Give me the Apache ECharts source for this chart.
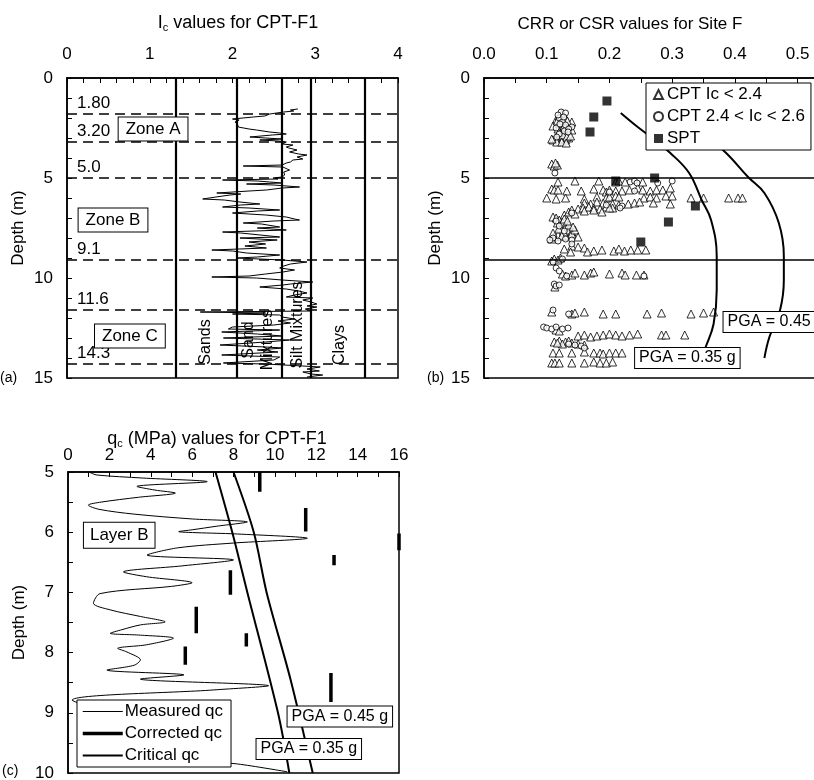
<!DOCTYPE html>
<html><head><meta charset="utf-8">
<script src="https://cdn.jsdelivr.net/npm/echarts@6/dist/echarts.min.js"></script>
<style>html,body{margin:0;padding:0;background:#fff}#c{width:814px;height:780px}</style>
</head><body><div id="c"></div>
<script>
// ---------- Panel (a): Ic profile ----------
const icDepth = [1.55,1.60,1.65,1.70,1.80,1.90,1.95,2.05,2.10,2.20,2.30,2.45,2.55,2.60,2.70,2.75,2.80,2.85,2.95,3.00,3.05,3.10,3.15,3.20,3.30,3.35,3.45,3.50,3.60,3.70,3.80,3.85,3.95,4.05,4.10,4.20,4.25,4.35,4.40,4.45,4.55,4.60,4.70,4.85,4.95,5.00,5.05,5.10,5.15,5.20,5.25,5.30,5.35,5.45,5.50,5.60,5.65,5.75,5.80,5.85,5.95,6.05,6.10,6.20,6.30,6.35,6.45,6.50,6.60,6.65,6.75,6.85,6.95,7.05,7.10,7.15,7.25,7.30,7.45,7.50,7.60,7.70,7.75,7.85,7.95,8.00,8.10,8.20,8.30,8.40,8.50,8.60,8.65,8.75,8.85,8.95,9.00,9.10,9.20,9.30,9.40,9.50,9.60,9.70,9.80,9.90,9.95,10.00,10.10,10.20,10.30,10.35,10.45,10.55,10.65,10.75,10.85,10.95,11.00,11.10,11.20,11.30,11.40,11.45,11.55,11.65,11.70,11.75,11.80,11.85,11.95,12.05,12.15,12.25,12.35,12.45,12.55,12.60,12.70,12.80,12.90,13.00,13.10,13.20,13.35,13.45,13.50,13.60,13.70,13.85,13.95,14.10,14.25,14.30,14.40,14.45,14.55,14.65,14.70,14.80,14.85,14.95];
const icValue = [2.79,2.70,2.74,2.62,2.45,2.39,2.25,2.00,2.08,2.03,2.06,2.07,2.20,2.29,2.45,2.57,2.65,2.48,2.21,2.40,2.60,2.33,2.55,2.65,2.60,2.73,2.65,2.68,2.78,2.69,2.80,2.90,2.78,2.85,2.73,2.70,2.65,2.60,2.13,2.61,2.66,2.69,2.62,2.63,2.60,2.49,2.55,1.88,2.30,2.45,2.60,2.17,2.50,2.81,2.60,2.41,2.20,1.81,2.10,1.97,1.80,1.64,1.90,2.09,2.33,2.10,1.88,2.20,2.57,2.30,2.00,2.40,2.65,2.75,2.81,2.50,2.13,2.35,2.57,2.30,2.65,1.88,2.10,2.09,2.57,2.09,2.54,2.20,2.40,2.15,2.41,1.75,2.00,2.17,2.57,2.30,2.05,2.60,2.90,2.70,2.62,2.57,2.75,2.61,2.40,2.20,1.75,2.29,2.60,2.97,2.70,2.61,2.33,2.65,2.80,2.90,2.75,2.65,2.97,2.85,2.95,3.02,2.90,3.02,2.88,2.94,1.61,2.40,2.00,2.57,2.60,2.75,2.55,2.70,2.50,2.00,1.95,2.57,1.87,2.30,2.60,1.89,2.69,2.40,1.85,2.40,2.61,2.30,2.55,1.87,2.57,2.50,1.89,2.40,2.85,3.06,2.90,3.05,2.85,2.95,3.09,2.90];
const soilBoundaries = [1.31, 2.05, 2.60, 2.95, 3.60];
const zoneDepths = [1.8, 3.2, 5.0, 9.1, 11.6, 14.3];
const zoneDepthLabels = ['1.80', '3.20', '5.0', '9.1', '11.6', '14.3'];

// ---------- Panel (b): CRR / CSR ----------
const cptIcBelow24 = [
 [0.11,3.1],[0.115,3.0],[0.12,2.9],[0.125,3.05],[0.13,3.1],[0.135,3.0],[0.12,2.7],[0.13,2.5],[0.125,2.3],[0.115,2.1],[0.12,1.9],[0.13,2.0],[0.14,2.6],[0.135,2.8],[0.118,2.55],[0.11,2.4],[0.125,1.75],[0.14,2.2],
 [0.117,2.15],[0.122,2.25],[0.128,2.4],[0.133,2.15],[0.119,2.75],[0.126,2.85],[0.132,2.95],[0.138,2.9],[0.116,3.2],[0.124,3.2],[0.131,3.25],[0.108,3.05],
 [0.108,4.3],[0.112,4.4],[0.117,4.35],[0.114,4.25],
 [0.118,5.2],[0.145,5.15],[0.183,5.15],[0.21,5.2],[0.215,5.15],[0.225,5.2],[0.253,5.2],
 [0.108,5.55],[0.112,5.6],[0.118,5.6],[0.132,5.65],[0.155,5.65],[0.175,5.55],[0.19,5.6],[0.195,5.7],[0.2,5.6],[0.21,5.65],[0.22,5.65],[0.232,5.6],[0.245,5.5],[0.253,5.6],[0.265,5.65],[0.275,5.6],[0.285,5.6],[0.297,5.5],
 [0.10,6.0],[0.115,6.05],[0.13,6.0],[0.16,6.05],[0.18,5.95],[0.195,6.0],[0.2,5.95],[0.21,5.9],[0.215,5.95],[0.255,6.0],[0.265,5.95],[0.275,6.0],[0.29,5.9],[0.30,5.9],[0.33,6.0],[0.35,6.0],[0.39,6.0],[0.405,6.0],[0.412,6.0],
 [0.16,6.25],[0.17,6.3],[0.18,6.2],[0.19,6.25],[0.205,6.3],[0.215,6.35],[0.23,6.3],[0.24,6.25],[0.248,6.2],[0.27,6.25],[0.297,6.3],
 [0.128,6.85],[0.135,6.7],[0.14,6.6],[0.15,6.55],[0.158,6.5],[0.167,6.45],[0.175,6.5],[0.185,6.55],[0.195,6.45],[0.205,6.5],[0.145,6.8],[0.16,6.65],[0.175,6.6],[0.188,6.7],[0.2,6.5],
 [0.11,6.95],[0.115,7.0],[0.12,7.1],[0.125,7.3],[0.13,7.45],[0.135,7.6],[0.14,7.7],[0.118,7.85],[0.112,7.95],[0.108,8.05],[0.125,7.2],[0.13,7.9],[0.14,7.8],[0.122,7.5],[0.135,7.35],[0.145,7.6],[0.15,7.95],
 [0.117,7.25],[0.128,7.05],[0.119,7.55],[0.127,7.7],[0.133,7.15],[0.142,7.45],[0.11,7.75],[0.124,7.9],
 [0.128,8.55],[0.14,8.4],[0.15,8.45],[0.16,8.5],[0.165,8.7],[0.175,8.65],[0.188,8.6],[0.207,8.65],[0.215,8.55],[0.224,8.65],[0.234,8.6],[0.245,8.6],[0.258,8.6],[0.138,8.7],
 [0.108,9.15],[0.112,9.05],[0.118,9.1],[0.122,9.0],
 [0.125,9.8],[0.13,9.9],[0.14,9.85],[0.145,9.75],[0.16,9.85],[0.17,9.75],[0.175,9.7],[0.2,9.8],[0.22,9.75],[0.225,9.85],[0.243,9.85],[0.255,9.85],
 [0.113,10.45],
 [0.108,11.7],[0.14,11.8],[0.145,11.75],[0.16,11.7],[0.19,11.8],[0.21,11.8],[0.26,11.8],[0.283,11.75],[0.33,11.8],[0.35,11.75],[0.366,11.7],
 [0.115,12.6],[0.12,12.65],
 [0.15,12.9],[0.16,12.85],[0.17,12.95],[0.18,12.9],[0.19,12.85],[0.2,12.8],[0.21,12.85],[0.22,12.9],[0.232,12.85],[0.245,12.8],[0.283,12.85],[0.29,12.85],[0.32,12.85],
 [0.112,13.2],[0.12,13.15],[0.13,13.2],[0.14,13.25],[0.15,13.3],[0.16,13.35],[0.125,13.3],[0.117,13.25],[0.135,13.15],
 [0.11,13.75],[0.12,13.75],[0.14,13.75],[0.16,13.7],[0.175,13.75],[0.185,13.75],[0.19,13.8],[0.2,13.75],[0.21,13.75],[0.22,13.75],
 [0.108,14.25],[0.113,14.25],[0.12,14.25],[0.14,14.25],[0.16,14.25],[0.175,14.2],[0.185,14.25],[0.195,14.25],[0.205,14.2]
];
const cptIc24to26 = [
 [0.123,1.7],[0.13,1.75],[0.12,2.0],[0.125,2.2],[0.115,2.5],[0.13,2.35],[0.14,2.45],[0.12,2.8],[0.128,2.65],[0.135,2.55],
 [0.118,1.85],[0.127,1.95],[0.121,2.3],[0.134,2.7],[0.116,2.95],
 [0.113,4.75],
 [0.233,5.2],[0.24,5.15],[0.244,5.25],[0.277,5.25],[0.30,5.15],
 [0.2,5.7],[0.24,5.65],[0.22,6.4],[0.195,6.35],[0.217,6.5],[0.14,6.75],
 [0.115,7.15],[0.12,7.4],[0.128,7.65],[0.11,8.0],[0.105,8.1],[0.118,8.15],[0.13,8.05],[0.14,8.1],[0.14,8.3],
 [0.11,9.2],[0.125,9.05],[0.115,9.5],[0.12,9.65],[0.132,9.9],[0.255,9.9],
 [0.112,10.3],[0.115,10.4],[0.12,10.35],
 [0.11,11.6],[0.135,11.8],
 [0.095,12.45],[0.10,12.5],[0.108,12.55],[0.115,12.45],[0.125,12.55],[0.134,12.5],
 [0.145,13.35],[0.155,13.4],[0.16,13.5],[0.135,13.3]
];
const sptPoints = [[0.196,1.15],[0.175,1.95],[0.169,2.7],[0.272,5.0],[0.21,5.15],[0.337,6.4],[0.294,7.2],[0.25,8.2]];
const csr035Depth = [1.75,2.4,3.0,3.75,4.75,6.1,7.1,8.9,10.6,12.3,13.4,13.9];
const csr035Value = [0.218,0.243,0.268,0.297,0.327,0.347,0.362,0.371,0.371,0.366,0.354,0.347];
const csr045Depth = [3.0,3.75,4.95,5.75,7.25,8.9,10.1,11.6,12.95,14.0];
const csr045Value = [0.357,0.386,0.421,0.447,0.47,0.478,0.478,0.472,0.455,0.447];
const layerBounds = [5.0, 9.1];

// ---------- Panel (c): qc in layer B ----------
const qcDepth = [5.01,5.05,5.10,5.16,5.24,5.30,5.35,5.42,5.50,5.55,5.62,5.70,5.78,5.83,5.90,5.96,5.99,6.03,6.10,6.18,6.26,6.38,6.46,6.56,6.66,6.74,6.84,6.90,7.02,7.18,7.29,7.40,7.49,7.54,7.62,7.68,7.71,7.76,7.87,7.93,7.99,8.12,8.21,8.29,8.37,8.44,8.55,8.62,8.79,9.0,9.3,9.6,9.78,9.85,9.98];
const qcMeasured = [1.07,1.4,3.6,6.73,3.33,4.2,5.19,3.4,1.6,0.98,1.5,3.2,6.0,8.67,7.2,6.0,5.35,8.2,11.57,8.0,5.3,3.82,8.0,5.5,2.68,3.8,6.0,5.0,1.55,1.23,2.04,3.5,4.7,3.5,2.6,2.04,3.5,5.1,3.8,2.4,2.85,3.5,3.2,1.88,5.6,3.5,9.7,7.05,0.2,1.2,0.8,2.5,6.0,8.2,10.6];
const correctedQc = [9.27, 11.49, 16.0, 12.86, 7.85, 6.2, 8.62, 5.67, 12.71];
const correctedTop = [5.0, 5.6, 6.02, 6.38, 6.63, 7.24, 7.68, 7.9, 8.34];
const correctedBottom = [5.33, 5.99, 6.3, 6.55, 7.04, 7.68, 7.9, 8.2, 8.82];
const critical035Depth = [5, 6, 7, 9, 10];
const critical035Qc = [7.13, 7.94, 8.67, 10.15, 10.7];
const critical045Depth = [5, 6, 7, 8.45, 10];
const critical045Qc = [8.0, 8.98, 9.6, 10.76, 11.83];

// ---------- chart ----------
const F = 'Liberation Sans, Arial, Helvetica, sans-serif';
const BLACK = '#000';
const chart = echarts.init(document.getElementById('c'), null, {renderer: 'canvas'});

function xAx(gi, min, max, interval, minorSplit, margin, fmt) {
  return {
    type: 'value', gridIndex: gi, position: 'top', min, max, interval,
    axisLine: {show: true, lineStyle: {color: BLACK, width: 1.5}},
    axisTick: {show: true, inside: true, length: 5, lineStyle: {color: BLACK, width: 1}},
    minorTick: {show: true, splitNumber: minorSplit, length: 5, lineStyle: {color: BLACK, width: 1}},
    splitLine: {show: false}, minorSplitLine: {show: false},
    axisLabel: {color: BLACK, fontSize: 17, fontFamily: F, margin, showMaxLabel: gi !== 1, formatter: fmt}
  };
}
function yAx(gi, min, max, interval, minorSplit, nameGap) {
  return {
    type: 'value', gridIndex: gi, inverse: true, min, max, interval,
    name: 'Depth (m)', nameLocation: 'middle', nameGap,
    nameTextStyle: {color: BLACK, fontSize: 17, fontFamily: F},
    axisLine: {show: true, lineStyle: {color: BLACK, width: 1.5}},
    axisTick: {show: true, inside: true, length: 5, lineStyle: {color: BLACK, width: 1}},
    minorTick: {show: true, splitNumber: minorSplit, length: 5, lineStyle: {color: BLACK, width: 1}},
    splitLine: {show: false}, minorSplitLine: {show: false},
    axisLabel: {color: BLACK, fontSize: 17, fontFamily: F, margin: 14}
  };
}

const series = [];
// (a) Ic trace with boundary and zone lines
series.push({
  type: 'line', name: 'Ic', xAxisIndex: 0, yAxisIndex: 0, symbol: 'none',
  itemStyle: {color: BLACK}, lineStyle: {color: BLACK, width: 1},
  data: icDepth.map((d, i) => [icValue[i], d]),
  markLine: {
    silent: true, symbol: ['none', 'none'], animation: false,
    data: soilBoundaries.map(v => ({xAxis: v, lineStyle: {type: 'solid', width: 2.2, color: BLACK}, label: {show: false}}))
      .concat(zoneDepths.map((v, i) => ({
        yAxis: v, name: zoneDepthLabels[i],
        lineStyle: {type: [10, 6], width: 1.6, color: BLACK},
        label: {show: true, position: 'insideStartTop', formatter: '{b}', color: BLACK, fontSize: 17, fontFamily: F, distance: [10, 2]}
      })))
  }
});
// (b)
series.push({
  type: 'scatter', name: 'CPT Ic < 2.4', xAxisIndex: 1, yAxisIndex: 1, symbol: 'triangle', symbolSize: 8,
  itemStyle: {color: '#fff', borderColor: BLACK, borderWidth: 1}, data: cptIcBelow24
});
series.push({
  type: 'scatter', name: 'CPT 2.4 < Ic < 2.6', xAxisIndex: 1, yAxisIndex: 1, symbol: 'circle', symbolSize: 6,
  itemStyle: {color: '#fff', borderColor: BLACK, borderWidth: 1}, data: cptIc24to26
});
series.push({
  type: 'scatter', name: 'SPT', xAxisIndex: 1, yAxisIndex: 1, symbol: 'rect', symbolSize: 9,
  itemStyle: {color: BLACK}, data: sptPoints, z: 3
});
series.push({
  type: 'line', name: 'csr35', xAxisIndex: 1, yAxisIndex: 1, symbol: 'none', smooth: 0.4,
  itemStyle: {color: BLACK}, lineStyle: {color: BLACK, width: 2}, data: csr035Depth.map((d, i) => [csr035Value[i], d]),
  markLine: {
    silent: true, symbol: ['none', 'none'], animation: false, label: {show: false},
    lineStyle: {type: 'solid', color: BLACK, width: 1.5},
    data: layerBounds.map(v => ({yAxis: v}))
  }
});
series.push({
  type: 'line', name: 'csr45', xAxisIndex: 1, yAxisIndex: 1, symbol: 'none', smooth: 0.4,
  itemStyle: {color: BLACK}, lineStyle: {color: BLACK, width: 2}, data: csr045Depth.map((d, i) => [csr045Value[i], d])
});
// (c)
series.push({
  type: 'line', name: 'Measured qc', xAxisIndex: 2, yAxisIndex: 2, symbol: 'none', smooth: 0.3,
  itemStyle: {color: BLACK}, lineStyle: {color: BLACK, width: 1}, data: qcDepth.map((d, i) => [qcMeasured[i], d])
});
correctedQc.forEach((q, i) => {
  series.push({
    type: 'line', name: 'Corrected qc', xAxisIndex: 2, yAxisIndex: 2, symbol: 'none',
    itemStyle: {color: BLACK}, lineStyle: {color: BLACK, width: 3.5, cap: 'butt'},
    data: [[q, correctedTop[i]], [q, correctedBottom[i]]]
  });
});
series.push({
  type: 'line', name: 'Critical qc', xAxisIndex: 2, yAxisIndex: 2, symbol: 'none', smooth: 0.3,
  itemStyle: {color: BLACK}, lineStyle: {color: BLACK, width: 2}, data: critical035Depth.map((d, i) => [critical035Qc[i], d])
});
series.push({
  type: 'line', name: 'Critical qc', xAxisIndex: 2, yAxisIndex: 2, symbol: 'none', smooth: 0.3,
  itemStyle: {color: BLACK}, lineStyle: {color: BLACK, width: 2}, data: critical045Depth.map((d, i) => [critical045Qc[i], d])
});

const richSub = {
  m: {fontSize: 18, fontFamily: F, color: BLACK},
  s: {fontSize: 11, fontFamily: F, color: BLACK, padding: [9, 0, 0, 0]}
};

const gridBase = {show: true, borderColor: BLACK, borderWidth: 1.5, backgroundColor: 'transparent', containLabel: false, outerBoundsMode: 'none'};
const option = {
  animation: false,
  backgroundColor: '#fff',
  title: [
    {text: '{m|I}{s|c}{m| values for CPT-F1}', left: 233, top: 8, textAlign: 'center', textStyle: {rich: richSub, fontWeight: 'normal'}},
    {text: 'CRR or CSR values for Site F', left: 625, top: 11, textAlign: 'center', textStyle: {fontSize: 17, fontFamily: F, color: BLACK, fontWeight: 'normal'}},
    {text: '{m|q}{s|c}{m| (MPa) values for CPT-F1}', left: 212, top: 424, textAlign: 'center', textStyle: {rich: richSub, fontWeight: 'normal'}}
  ],
  grid: [
    Object.assign({left: 67, top: 78, width: 331, height: 300}, gridBase),
    Object.assign({left: 484, top: 78, width: 345, height: 300}, gridBase),
    Object.assign({left: 68, top: 472, width: 331, height: 301}, gridBase)
  ],
  xAxis: [
    xAx(0, 0, 4, 1, 5, 15),
    xAx(1, 0, 0.55, 0.1, 2, 15, v => v.toFixed(1)),
    xAx(2, 0, 16, 2, 2, 8)
  ],
  yAxis: [
    yAx(0, 0, 15, 5, 5, 40),
    yAx(1, 0, 15, 5, 5, 40),
    yAx(2, 5, 10, 1, 2, 40)
  ],
  legend: [
    {
      left: 646, top: 83, orient: 'vertical', data: ['CPT Ic < 2.4', 'CPT 2.4 < Ic < 2.6', 'SPT'],
      backgroundColor: '#fff', borderColor: BLACK, borderWidth: 1, borderRadius: 0, padding: [3, 6, 3, 7],
      itemGap: 5, itemWidth: 9, itemHeight: 9, selectedMode: false, z: 10,
      textStyle: {color: BLACK, fontSize: 17, fontFamily: F, padding: [0, 0, 0, -1]}
    },
    {
      left: 77, top: 700, orient: 'vertical',
      data: [
        {name: 'Measured qc', lineStyle: {width: 1, color: BLACK}},
        {name: 'Corrected qc', lineStyle: {width: 3.5, color: BLACK}},
        {name: 'Critical qc', lineStyle: {width: 2, color: BLACK}}
      ],
      backgroundColor: '#fff', borderColor: BLACK, borderWidth: 1, borderRadius: 0, padding: [3, 8, 3, 4],
      itemGap: 5, itemWidth: 40, itemHeight: 14, selectedMode: false, z: 10,
      itemStyle: {opacity: 0},
      textStyle: {color: BLACK, fontSize: 17, fontFamily: F, padding: [0, 0, 0, -3]}
    }
  ],
  series
};
chart.setOption(option);

// ---------- annotations (anchored in data coordinates) ----------
const boxStyle = (text, size, align, pad) => ({
  text, fontSize: size, fontFamily: F, fill: BLACK, align, verticalAlign: 'middle',
  backgroundColor: '#fff', borderColor: BLACK, borderWidth: 1, padding: pad
});
function at(gi, x, y) { return chart.convertToPixel({gridIndex: gi}, [x, y]); }
const graphics = [];
function box(gi, x, y, text, size, align, pad) {
  const p = at(gi, x, y);
  const px = align === 'left' ? p[0] + pad[1] : p[0];
  graphics.push({type: 'text', x: px, y: p[1], z: 100, style: boxStyle(text, size, align, pad)});
}
function vtext(gi, x, y, text) {
  const p = at(gi, x, y);
  graphics.push({type: 'text', x: p[0], y: p[1], rotation: Math.PI / 2, z: 100,
    style: {text, fontSize: 16, fontFamily: F, fill: BLACK, align: 'center', verticalAlign: 'middle', lineHeight: 19}});
}
function plain(x, y, text) {
  graphics.push({type: 'text', x, y, z: 100, style: {text, fontSize: 14, fontFamily: F, fill: BLACK, align: 'left', verticalAlign: 'middle'}});
}
box(0, 1.04, 2.55, 'Zone A', 17, 'center', [3, 7]);
box(0, 0.556, 7.1, 'Zone B', 17, 'center', [3, 7]);
box(0, 0.76, 12.9, 'Zone C', 17, 'center', [3, 7]);
vtext(0, 1.67, 13.2, 'Sands');
vtext(0, 2.31, 13.1, 'Sand\nMixtures');
vtext(0, 2.79, 12.35, 'Silt Mixtures');
vtext(0, 3.3, 13.35, 'Clays');
box(1, 0.3755, 12.2, 'PGA = 0.45 g', 16, 'left', [2, 4]);
box(1, 0.2345, 14.0, 'PGA = 0.35 g', 16, 'left', [2, 4]);
box(2, 0.48, 6.05, 'Layer B', 17, 'left', [4, 6]);
box(2, 10.42, 9.06, 'PGA = 0.45 g', 16, 'left', [2, 4]);
box(2, 8.92, 9.6, 'PGA = 0.35 g', 16, 'left', [2, 4]);
const pa = at(0, 0, 15), pb = at(1, 0, 15), pc = at(2, 0, 10);
plain(pa[0] - 67, pa[1], '(a)');
plain(pb[0] - 57, pb[1], '(b)');
plain(pc[0] - 66, pc[1] - 2, '(c)');
chart.setOption({graphic: graphics});
</script>
</body></html>
